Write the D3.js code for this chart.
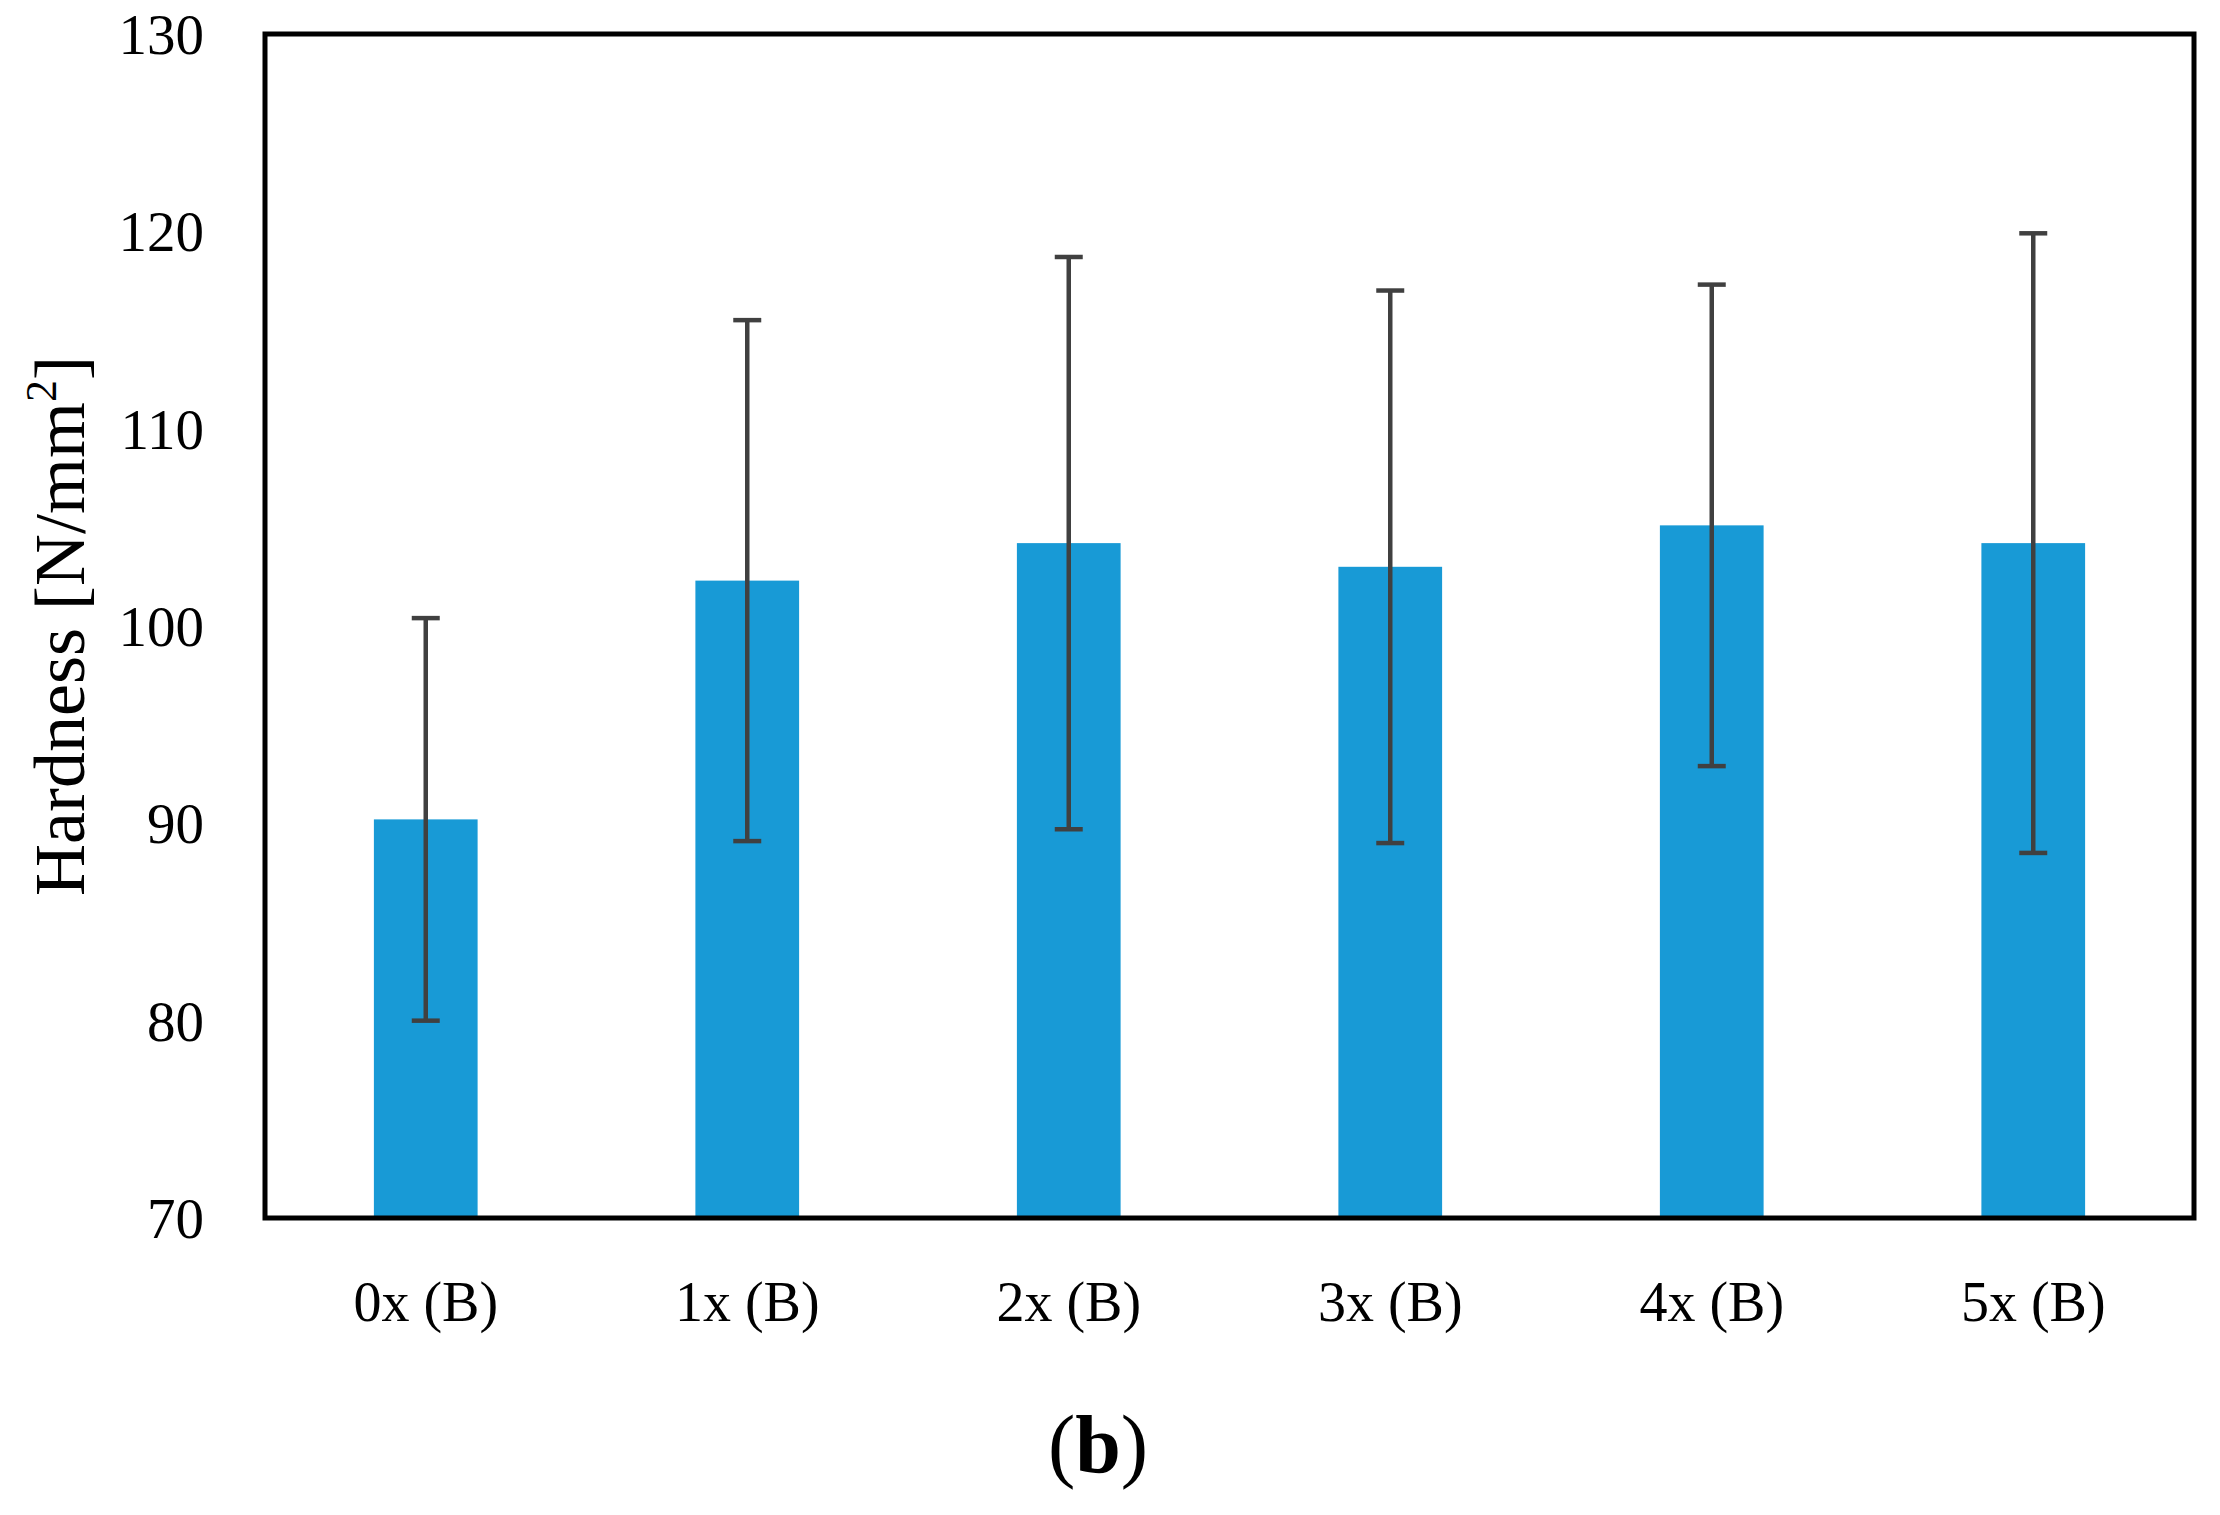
<!DOCTYPE html>
<html>
<head>
<meta charset="utf-8">
<script src="https://cdn.jsdelivr.net/npm/d3@7"></script>
<style>
  html, body { margin: 0; padding: 0; background: #fff; }
  svg { display: block; }
  text { font-family: "Liberation Serif", "DejaVu Serif", serif; fill: #000; }
</style>
</head>
<body>
<svg id="chart" width="2220" height="1515"></svg>
<script>
const categories = ["0x (B)", "1x (B)", "2x (B)", "3x (B)", "4x (B)", "5x (B)"];
const hardness   = [90.2, 102.3, 104.2, 103.0, 105.1, 104.2];
const errors     = [10.2, 13.2, 14.5, 14.0, 12.2, 15.7];
const yTicks     = [70, 80, 90, 100, 110, 120, 130];

const svg = d3.select("#chart");
const m = { left: 265, right: 2194, top: 34, bottom: 1218 };

const x = d3.scaleBand().domain(categories).range([m.left, m.right]).paddingInner(0).paddingOuter(0);
const y = d3.scaleLinear().domain([70, 130]).range([m.bottom, m.top]);
const barW = x.bandwidth() / 3.1;

// bars
svg.append("g").selectAll("rect").data(categories).join("rect")
  .attr("x", d => x(d) + x.bandwidth() / 2 - barW / 2)
  .attr("y", (d, i) => y(hardness[i]))
  .attr("width", barW)
  .attr("height", (d, i) => y(70) - y(hardness[i]))
  .attr("fill", "#189ad6");

// error bars
const eg = svg.append("g").attr("stroke", "#404040").attr("stroke-width", 4.5);
categories.forEach((c, i) => {
  const cx = x(c) + x.bandwidth() / 2;
  const hi = y(hardness[i] + errors[i]), lo = y(hardness[i] - errors[i]);
  eg.append("line").attr("x1", cx).attr("x2", cx).attr("y1", hi).attr("y2", lo);
  eg.append("line").attr("x1", cx - 14).attr("x2", cx + 14).attr("y1", hi).attr("y2", hi);
  eg.append("line").attr("x1", cx - 14).attr("x2", cx + 14).attr("y1", lo).attr("y2", lo);
});

// frame
svg.append("rect")
  .attr("x", m.left).attr("y", m.top)
  .attr("width", m.right - m.left).attr("height", m.bottom - m.top)
  .attr("fill", "none").attr("stroke", "#000").attr("stroke-width", 5);

// y axis
const yAxis = d3.axisLeft(y).tickValues(yTicks).tickSize(0).tickPadding(0);
const yg = svg.append("g").attr("transform", `translate(${204},0)`).call(yAxis);
yg.select(".domain").remove();
yg.selectAll("text").attr("font-size", 57).attr("font-family", "Liberation Serif").attr("fill", "#000").attr("dy", "0.34em");

// x axis
const xAxis = d3.axisBottom(x).tickSize(0).tickPadding(0);
const xg = svg.append("g").attr("transform", `translate(0,${1321})`).call(xAxis);
xg.select(".domain").remove();
xg.selectAll("text").attr("font-size", 56).attr("font-family", "Liberation Serif").attr("fill", "#000").attr("dy", 0).attr("y", 0);

// y title
const yt = svg.append("text")
  .attr("transform", `translate(${84},${(m.top + m.bottom) / 2}) rotate(-90)`)
  .attr("text-anchor", "middle")
  .attr("font-size", 72);
yt.append("tspan").text("Hardness [N/mm");
yt.append("tspan").text("2").attr("font-size", 44).attr("dy", -28);
yt.append("tspan").text("]").attr("dy", 28);

// panel label
const pl = svg.append("text")
  .attr("x", 1098).attr("y", 1472)
  .attr("text-anchor", "middle")
  .attr("font-size", 82);
pl.append("tspan").text("(");
pl.append("tspan").text("b").attr("font-weight", "bold");
pl.append("tspan").text(")");
</script>
</body>
</html>
